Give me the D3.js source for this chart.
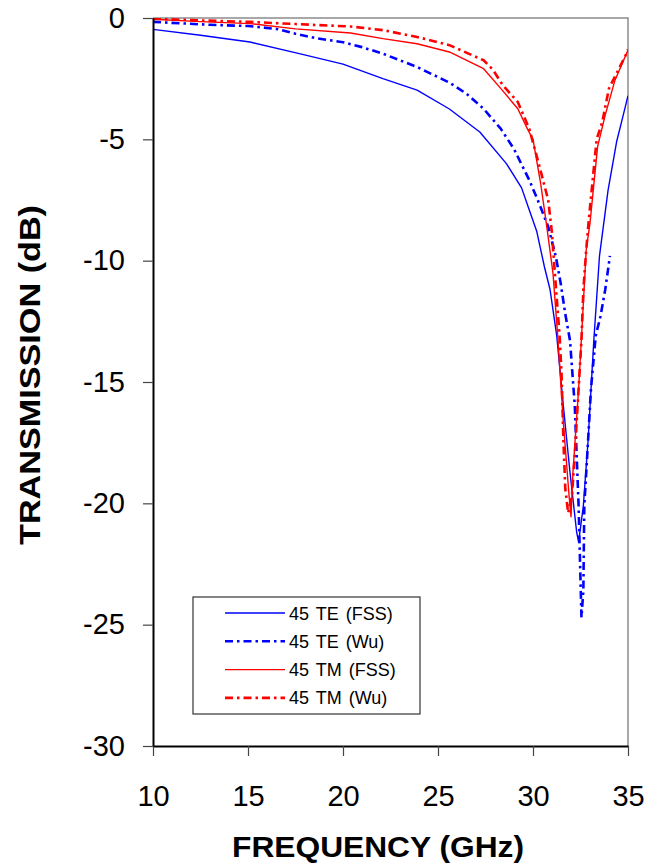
<!DOCTYPE html>
<html>
<head>
<meta charset="utf-8">
<script src="https://cdn.jsdelivr.net/npm/d3@7"></script>
<style>
  body { margin: 0; background: #fff; }
  text { font-family: Arial, "Liberation Sans", sans-serif; }
</style>
</head>
<body>
<svg class="graphs"></svg>
<script>
// frequency (GHz) / transmission (dB)
const teFssFreq = [10.0, 12.5, 15.1, 17.7, 20.0, 22.1, 23.9, 25.6, 27.2, 28.6, 29.4, 29.8, 30.2, 30.6, 30.9, 31.25, 31.6, 31.95, 32.3, 32.4, 32.65, 32.9, 33.2, 33.5, 33.95, 34.4, 34.75, 35.0];
const teFssDb   = [-0.47, -0.71, -0.99, -1.47, -1.9, -2.5, -2.97, -3.75, -4.7, -6.0, -7.0, -7.9, -8.8, -10.25, -11.2, -13.1, -16.0, -18.75, -21.2, -21.6, -20.1, -17.4, -13.3, -9.8, -7.1, -5.1, -4.0, -3.2];

const teWuFreq = [10.0, 13.0, 15.0, 16.5, 17.5, 18.5, 20.0, 21.0, 22.1, 23.9, 25.6, 26.5, 27.4, 28.3, 29.0, 29.8, 30.3, 30.8, 31.2, 31.45, 31.7, 31.95, 32.2, 32.4, 32.55, 32.65, 32.7, 32.9, 33.05, 33.3, 33.55, 33.8, 34.05];
const teWuDb   = [-0.16, -0.28, -0.33, -0.45, -0.65, -0.82, -1.0, -1.2, -1.47, -2.02, -2.66, -3.12, -3.74, -4.56, -5.4, -6.67, -7.6, -8.6, -9.83, -10.9, -12.2, -13.3, -16.0, -20.1, -24.7, -23.6, -20.1, -17.4, -15.3, -13.1, -12.3, -11.2, -9.8];

const tmFssFreq = [10.0, 12.5, 15.1, 17.5, 20.4, 22.1, 23.9, 25.6, 27.4, 28.3, 29.2, 29.7, 30.0, 30.4, 30.7, 31.05, 31.3, 31.6, 31.9, 32.0, 32.1, 32.4, 32.55, 32.8, 33.0, 33.4, 33.8, 34.3, 35.0];
const tmFssDb   = [-0.05, -0.15, -0.23, -0.45, -0.62, -0.85, -1.06, -1.4, -2.09, -2.9, -3.74, -4.56, -5.0, -6.8, -8.45, -10.5, -13.1, -16.7, -19.7, -20.55, -18.75, -15.3, -13.2, -9.56, -8.45, -5.3, -4.0, -2.6, -1.32];

const tmWuFreq = [10.0, 12.5, 15.1, 17.5, 20.4, 22.1, 23.9, 25.6, 27.4, 27.9, 28.4, 29.2, 29.8, 30.2, 30.8, 31.0, 31.15, 31.4, 31.5, 31.6, 31.7, 31.85, 32.05, 32.2, 32.45, 32.55, 32.65, 32.8, 32.95, 33.35, 33.65, 34.0, 34.9, 35.0];
const tmWuDb   = [-0.03, -0.1, -0.16, -0.25, -0.35, -0.5, -0.78, -1.12, -1.74, -2.14, -2.76, -3.46, -4.56, -5.7, -7.5, -8.87, -10.5, -13.1, -14.6, -17.4, -19.4, -20.4, -19.7, -18.0, -14.6, -13.27, -11.2, -9.56, -8.2, -5.0, -4.27, -2.9, -1.5, -1.3];

const seriesNames = ['45 TE (FSS)', '45 TE (Wu)', '45 TM (FSS)', '45 TM (Wu)'];
const xTicks = [10, 15, 20, 25, 30, 35];
const yTicks = [0, -5, -10, -15, -20, -25, -30];

const width = 647, height = 865;
const plotLeft = 153, plotRight = 628, plotTop = 18, plotBottom = 746;

const x = d3.scaleLinear().domain([10, 35]).range([plotLeft, plotRight]);
const y = d3.scaleLinear().domain([0, -30]).range([plotTop, plotBottom]);

const svg = d3.select('.graphs')
  .attr('width', width)
  .attr('height', height);

const styles = [
  { color: '#0000ff', width: 1.4, dash: null },
  { color: '#0000ff', width: 2.6, dash: '8,4,2.5,4' },
  { color: '#ff0000', width: 1.4, dash: null },
  { color: '#ff0000', width: 2.6, dash: '8,4,2.5,4' }
];

const series = [
  d3.zip(teFssFreq, teFssDb),
  d3.zip(teWuFreq, teWuDb),
  d3.zip(tmFssFreq, tmFssDb),
  d3.zip(tmWuFreq, tmWuDb)
];

// plot frame: grey top / right
svg.append('path')
  .attr('d', `M${plotLeft},${plotTop}H${plotRight}V${plotBottom}`)
  .attr('fill', 'none')
  .attr('stroke', '#8c8c8c')
  .attr('stroke-width', 1.5);

svg.append('clipPath').attr('id', 'plot')
  .append('rect')
  .attr('x', plotLeft).attr('y', plotTop)
  .attr('width', plotRight - plotLeft).attr('height', plotBottom - plotTop);

const line = d3.line().x(d => x(d[0])).y(d => y(d[1]));

svg.append('g').attr('clip-path', 'url(#plot)')
  .selectAll('path')
  .data(series)
  .join('path')
  .attr('d', line)
  .attr('fill', 'none')
  .attr('stroke', (d, i) => styles[i].color)
  .attr('stroke-width', (d, i) => styles[i].width)
  .attr('stroke-dasharray', (d, i) => styles[i].dash)
  .attr('stroke-linejoin', 'round');

// axes (plain hyphen for negatives, like the original)
const plain = d => String(d);

const xAxis = svg.append('g')
  .attr('transform', `translate(0,${plotBottom})`)
  .call(d3.axisBottom(x).tickValues(xTicks).tickFormat(plain).tickSize(10).tickPadding(29).tickSizeOuter(0));

const yAxis = svg.append('g')
  .attr('transform', `translate(${plotLeft},0)`)
  .call(d3.axisLeft(y).tickValues(yTicks).tickFormat(plain).tickSize(10).tickPadding(18).tickSizeOuter(0));

[xAxis, yAxis].forEach(g => {
  g.select('.domain').attr('stroke', '#000').attr('stroke-width', 2);
  g.selectAll('.tick line').attr('stroke', '#444').attr('stroke-width', 1.2);
  g.selectAll('.tick text')
    .attr('font-size', 29)
    .attr('fill', '#000');
});

// titles
svg.append('text')
  .attr('x', 378)
  .attr('y', 857)
  .attr('text-anchor', 'middle')
  .attr('font-size', 29)
  .attr('font-weight', 'bold')
  .attr('textLength', 292)
  .attr('lengthAdjust', 'spacingAndGlyphs')
  .text('FREQUENCY (GHz)');

svg.append('text')
  .attr('transform', 'translate(40,375) rotate(-90)')
  .attr('text-anchor', 'middle')
  .attr('font-size', 29)
  .attr('font-weight', 'bold')
  .attr('textLength', 340)
  .attr('lengthAdjust', 'spacingAndGlyphs')
  .text('TRANSMISSION (dB)');

// legend
const legend = svg.append('g').attr('transform', 'translate(193,597)');

legend.append('rect')
  .attr('width', 227).attr('height', 117)
  .attr('fill', '#fff')
  .attr('stroke', '#333')
  .attr('stroke-width', 1.2);

const rows = legend.selectAll('g.row')
  .data(seriesNames)
  .join('g')
  .attr('class', 'row')
  .attr('transform', (d, i) => `translate(0,${16 + i * 28.3})`);

rows.append('line')
  .attr('x1', 32).attr('x2', 92)
  .attr('stroke', (d, i) => styles[i].color)
  .attr('stroke-width', (d, i) => styles[i].width)
  .attr('stroke-dasharray', (d, i) => styles[i].dash);

rows.append('text')
  .attr('x', 96)
  .attr('y', 6.5)
  .attr('font-size', 18)
  .attr('fill', '#000')
  .attr('word-spacing', 2)
  .text(d => d);
</script>
</body>
</html>
